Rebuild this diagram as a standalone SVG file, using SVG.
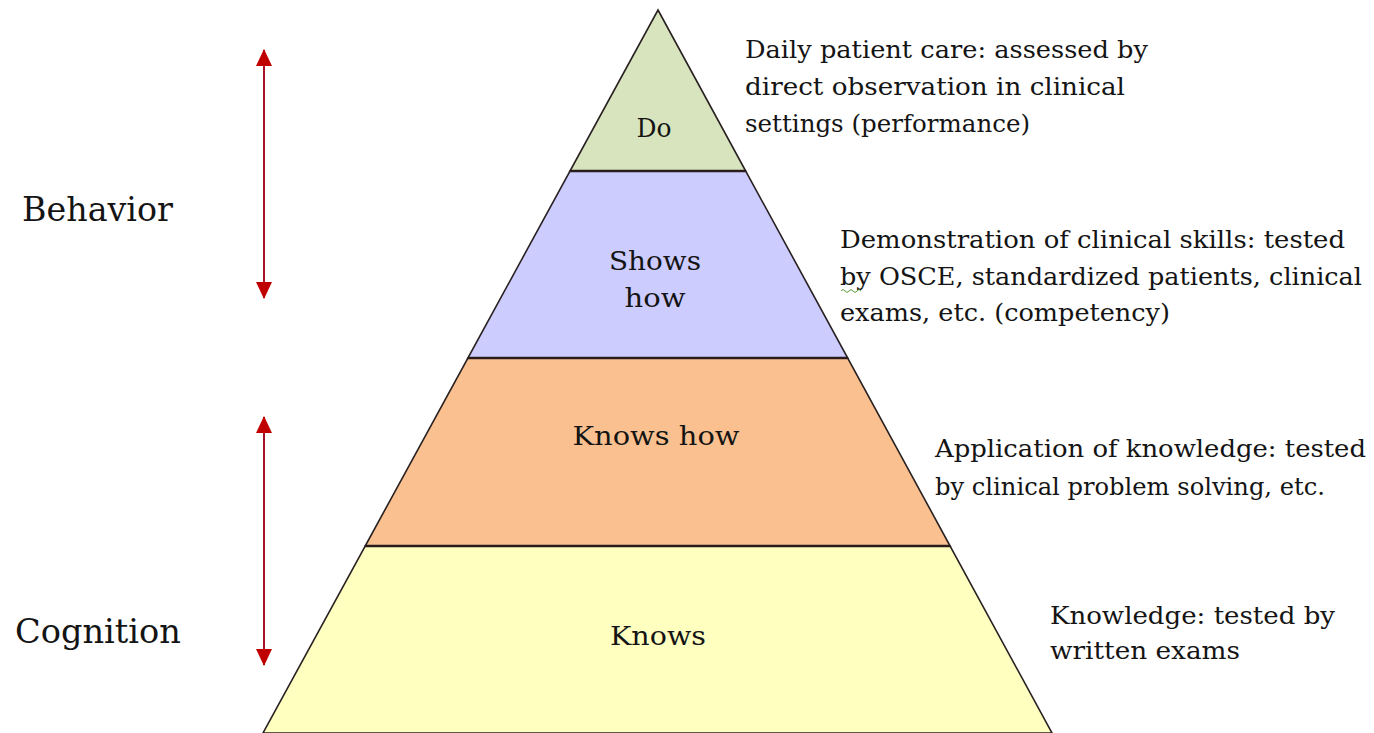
<svg xmlns="http://www.w3.org/2000/svg" width="1374" height="733" viewBox="0 0 1374 733">
<style>
  text { font-family: "DejaVu Serif", "Liberation Serif", serif; fill: #141414; }
  .lay { stroke: #2a2222; stroke-width: 1.6; stroke-linejoin: miter; }
  .sep { stroke: #2a1c1c; stroke-width: 2.5; }
  .in { font-size: 26px; text-anchor: middle; }
  .desc { font-size: 24px; }
  .side { font-size: 34px; }
  .arr { stroke: #a8102a; stroke-width: 2; fill: none; }
</style>
<defs>
  <marker id="head" markerUnits="userSpaceOnUse" markerWidth="18" markerHeight="18" viewBox="0 0 18 18" refX="16" refY="9" orient="auto-start-reverse">
    <path d="M0,1 L17,9 L0,17 Z" fill="#c00000"/>
  </marker>
</defs>
<rect width="1374" height="733" fill="#ffffff"/>

<g id="layer-knows">
  <polygon class="lay" points="365.2,546 950.1,546 1052,733 263,733" fill="#ffffc0"/>
  <text class="in" x="658" y="645" textLength="96" lengthAdjust="spacingAndGlyphs">Knows</text>
</g>
<g id="layer-knows-how">
  <polygon class="lay" points="467.9,358 847.7,358 950.1,546 365.2,546" fill="#fac08f"/>
  <text class="in" x="656" y="445" textLength="167" lengthAdjust="spacingAndGlyphs">Knows how</text>
</g>
<g id="layer-shows-how">
  <polygon class="lay" points="570,171 745.7,171 847.7,358 467.9,358" fill="#ccccff"/>
  <text class="in" x="655" y="270" textLength="92" lengthAdjust="spacingAndGlyphs">Shows</text>
  <text class="in" x="655" y="307" textLength="61" lengthAdjust="spacingAndGlyphs">how</text>
</g>
<g id="layer-do">
  <polygon class="lay" points="658,10 745.7,171 570,171" fill="#d7e4bd"/>
  <text class="in" x="654" y="137" textLength="35" lengthAdjust="spacingAndGlyphs">Do</text>
</g>
<g id="separators">
  <line class="sep" x1="570" y1="171" x2="745.7" y2="171"/>
  <line class="sep" x1="467.9" y1="358" x2="847.7" y2="358"/>
  <line class="sep" x1="365.2" y1="546" x2="950.1" y2="546"/>
</g>

<g id="connectors">
  <line class="arr" x1="264" y1="50" x2="264" y2="298" marker-start="url(#head)" marker-end="url(#head)"/>
  <line class="arr" x1="264" y1="417" x2="264" y2="665" marker-start="url(#head)" marker-end="url(#head)"/>
</g>

<g id="label-behavior">
  <text class="side" x="22" y="221" textLength="151" lengthAdjust="spacingAndGlyphs">Behavior</text>
</g>
<g id="label-cognition">
  <text class="side" x="15" y="643" textLength="166" lengthAdjust="spacingAndGlyphs">Cognition</text>
</g>

<g id="desc-do">
  <text class="desc" x="745" y="58" textLength="403" lengthAdjust="spacingAndGlyphs">Daily patient care: assessed by</text>
  <text class="desc" x="745" y="95" textLength="380" lengthAdjust="spacingAndGlyphs">direct observation in clinical</text>
  <text class="desc" x="745" y="132" textLength="285" lengthAdjust="spacingAndGlyphs">settings (performance)</text>
</g>
<g id="desc-shows-how">
  <text class="desc" x="840" y="248" textLength="505" lengthAdjust="spacingAndGlyphs">Demonstration  of clinical skills: tested</text>
  <text class="desc" x="840" y="285" textLength="522" lengthAdjust="spacingAndGlyphs">by OSCE, standardized  patients, clinical</text>
  <text class="desc" x="840" y="321" textLength="330" lengthAdjust="spacingAndGlyphs">exams, etc. (competency)</text>
  <path d="M841,291 q2,-3 4,0 t4,0 t4,0 t4,0 t4,0" fill="none" stroke="#5a9a3a" stroke-width="1"/>
</g>
<g id="desc-knows-how">
  <text class="desc" x="935" y="457" textLength="431" lengthAdjust="spacingAndGlyphs">Application of knowledge: tested</text>
  <text class="desc" x="935" y="495" textLength="390" lengthAdjust="spacingAndGlyphs">by clinical problem solving, etc.</text>
</g>
<g id="desc-knows">
  <text class="desc" x="1050" y="624" textLength="285" lengthAdjust="spacingAndGlyphs">Knowledge: tested by</text>
  <text class="desc" x="1050" y="659" textLength="190" lengthAdjust="spacingAndGlyphs">written exams</text>
</g>
</svg>
